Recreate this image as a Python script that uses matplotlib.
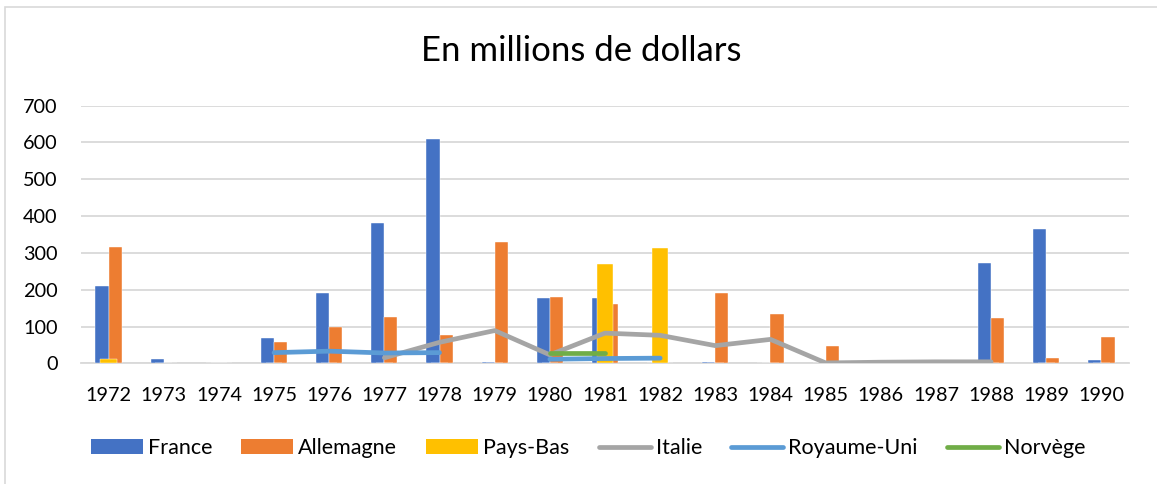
import numpy as np
import matplotlib
matplotlib.use("Agg")
import matplotlib.pyplot as plt
from matplotlib.patches import Patch, Rectangle
from matplotlib.lines import Line2D

plt.rcParams['font.family'] = ['Lato', 'DejaVu Sans']

years = [str(y) for y in range(1972, 1991)]
nan = np.nan
france = [210, 12, 0, 68, 191, 380, 610, 3, 178, 178, 0, 3, 0, 0, 0, 0, 273, 364, 9]
allemagne = [315, 0, 0, 57, 100, 125, 76, 329, 180, 160, 0, 191, 134, 48, 0, 0, 123, 15, 71]
pays_bas = [12, 0, 0, 0, 0, 0, 0, 0, 0, 269, 314, 0, 0, 0, 0, 0, 0, 0, 0]
italie = [nan, nan, nan, nan, nan, 15, 57, 89, 23, 82, 76, 48, 65, 1, 3, 4, 4, nan, nan]
royaume_uni = [nan, nan, nan, 29, 33, 28, 29, nan, 11, 13, 14, nan, nan, nan, nan, nan, nan, nan, nan]
norvege = [nan, nan, nan, nan, nan, nan, nan, nan, 27, 27, nan, nan, nan, nan, nan, nan, nan, nan, nan]

c_fr, c_al, c_pb = '#4472C4', '#ED7D31', '#FFC000'
c_it, c_ru, c_no = '#A5A5A5', '#5B9BD5', '#70AD47'
grid_c = '#D9D9D9'

W, H = 1157, 484
fig = plt.figure(figsize=(W / 100, H / 100), dpi=100)
ax = fig.add_axes([81 / W, 1 - 363.3 / H, (1129 - 81) / W, (363.3 - 105.7) / H])

x = np.arange(len(years))
bw = 0.238
ax.bar(x - bw / 2, france, bw, color=c_fr, zorder=2, edgecolor='white', linewidth=0.3)
ax.bar(x + bw / 2, allemagne, bw, color=c_al, zorder=2, edgecolor='white', linewidth=0.3)
ax.bar(x, pays_bas, 0.30, color=c_pb, zorder=3, edgecolor='white', linewidth=0.3)

lw = 3.4
ax.plot(x, italie, color=c_it, lw=lw, solid_capstyle='round', solid_joinstyle='round', zorder=4)
ax.plot(x, royaume_uni, color=c_ru, lw=lw, solid_capstyle='round', solid_joinstyle='round', zorder=5)
ax.plot(x, norvege, color=c_no, lw=lw, solid_capstyle='round', solid_joinstyle='round', zorder=6)

ax.set_xlim(-0.5, len(years) - 0.5)
ax.set_ylim(0, 700)
ax.set_yticks(range(0, 701, 100))
ax.set_xticks(x)
ax.set_xticklabels(years)
fs = 14.3
ax.tick_params(axis='both', length=0, labelsize=fs, colors='#000000')
ax.tick_params(axis='y', pad=17)
ax.tick_params(axis='x', pad=17)
ax.yaxis.grid(True, color=grid_c, lw=1.3, zorder=0)
ax.set_axisbelow(True)
for s in ['top', 'right', 'left']:
    ax.spines[s].set_visible(False)
ax.spines['bottom'].set_color(grid_c)
ax.spines['bottom'].set_linewidth(1.3)
ax.spines['bottom'].set_zorder(1)

fig.text(581 / W, 1 - 51 / H, 'En millions de dollars', ha='center', va='center', fontsize=25, color='#000000')

lfs = 15.5
px = lfs * 100 / 72
handles = [
    Patch(facecolor=c_fr, label='France'),
    Patch(facecolor=c_al, label='Allemagne'),
    Patch(facecolor=c_pb, label='Pays-Bas'),
    Line2D([], [], color=c_it, lw=lw, solid_capstyle='round', label='Italie'),
    Line2D([], [], color=c_ru, lw=lw, solid_capstyle='round', label='Royaume-Uni'),
    Line2D([], [], color=c_no, lw=lw, solid_capstyle='round', label='Norvège'),
]
fig.legend(handles=handles, loc='center', bbox_to_anchor=(588 / W, 1 - 448 / H), ncol=6,
           frameon=False, fontsize=lfs, handlelength=52 / px, handletextpad=5 / px,
           columnspacing=29 / px, handleheight=14 / px)

fig.add_artist(Rectangle((5 / W, -0.1), 1.2, 1 - 6.5 / H + 0.1, transform=fig.transFigure,
                         fill=False, edgecolor=grid_c, lw=1.2))

fig.savefig('out.png', dpi=100)
